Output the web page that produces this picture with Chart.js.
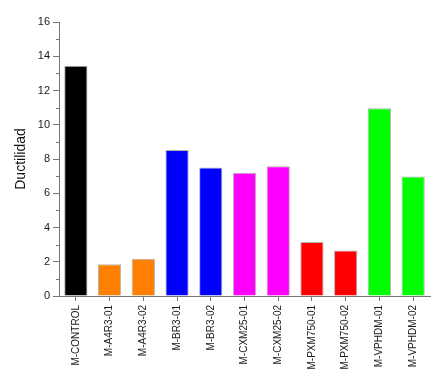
<!DOCTYPE html>
<html>
<head>
<meta charset="utf-8">
<script src="https://cdn.jsdelivr.net/npm/chart.js@4"></script>
<style>
  html, body { margin: 0; padding: 0; background: #fff; }
</style>
</head>
<body>
<canvas id="ductChart" width="444" height="370"></canvas>
<script>
const categories = ['M-CONTROL', 'M-A4R3-01', 'M-A4R3-02', 'M-BR3-01', 'M-BR3-02', 'M-CXM25-01',
    'M-CXM25-02', 'M-PXM750-01', 'M-PXM750-02', 'M-VPHDM-01', 'M-VPHDM-02'];
const ductilidad = [13.45, 1.85, 2.17, 8.53, 7.51, 7.2, 7.57, 3.15, 2.66, 10.97, 6.98];
const barColors = ['#000000', '#ff8000', '#ff8000', '#0000ff', '#0000ff', '#ff00ff',
    '#ff00ff', '#ff0000', '#ff0000', '#00ff00', '#00ff00'];
const yMin = 0;
const yMax = 16;

// minor ticks on the y axis (every 1 unit)
const minorTicks = {
    id: 'minorTicks',
    afterDraw(chart) {
        const y = chart.scales.y;
        const ctx = chart.ctx;
        ctx.save();
        ctx.strokeStyle = '#777';
        ctx.lineWidth = 1;
        for (let v = yMin + 1; v < yMax; v += 2) {
            const py = Math.round(y.getPixelForValue(v)) + 0.5;
            ctx.beginPath();
            ctx.moveTo(y.right - 3, py);
            ctx.lineTo(y.right, py);
            ctx.stroke();
        }
        ctx.restore();
    }
};

const ctx = document.getElementById('ductChart').getContext('2d');
const chart = new Chart(ctx, {
    type: 'bar',
    data: {
        labels: categories,
        datasets: [{
            label: 'Ductilidad',
            data: ductilidad,
            backgroundColor: barColors,
            borderColor: 'rgba(0,0,0,0.3)',
            borderWidth: 1,
            barPercentage: 0.69,
            categoryPercentage: 1
        }]
    },
    options: {
        responsive: false,
        animation: false,
        layout: { padding: { top: 22, right: 14, left: 0, bottom: 0 } },
        plugins: {
            legend: { display: false },
            tooltip: { enabled: false }
        },
        scales: {
            x: {
                offset: true,
                afterFit: (scale) => { scale.height = 74; },
                grid: {
                    display: true,
                    drawOnChartArea: false,
                    tickLength: 5,
                    tickColor: '#777',
                    offset: false
                },
                border: { color: '#777', width: 1 },
                ticks: {
                    maxRotation: 90,
                    minRotation: 90,
                    autoSkip: false,
                    padding: 4,
                    color: '#1a1a1a',
                    font: { family: 'Liberation Sans', size: 10 }
                }
            },
            y: {
                min: yMin,
                max: yMax,
                afterFit: (scale) => { scale.width = 59; },
                grid: {
                    display: true,
                    drawOnChartArea: false,
                    tickLength: 6,
                    tickColor: '#777'
                },
                border: { color: '#777', width: 1 },
                ticks: {
                    stepSize: 2,
                    padding: 3,
                    color: '#1a1a1a',
                    font: { family: 'Liberation Sans', size: 11 }
                },
                title: {
                    display: true,
                    text: 'Ductilidad',
                    color: '#111',
                    font: { family: 'Liberation Sans', size: 14 },
                    padding: { top: 13, bottom: 0 }
                }
            }
        }
    },
    plugins: [minorTicks]
});
</script>
</body>
</html>
